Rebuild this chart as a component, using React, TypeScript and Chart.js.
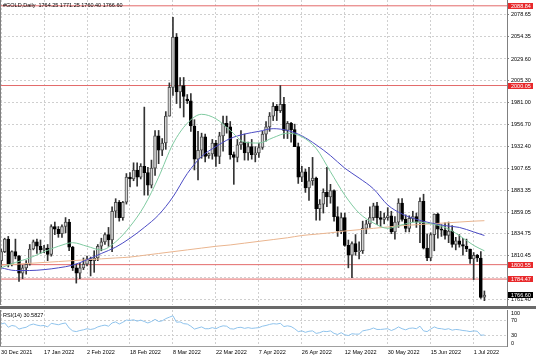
import React, { useEffect, useRef } from 'react';
import { Chart, registerables } from 'chart.js';
Chart.register(...registerables);

// ---------- data ----------
const TITLE = '#GOLD,Daily  1764.25 1771.25 1760.40 1766.60';
const RSI_TITLE = 'RSI(14) 30.5827';

const DATE_LABELS = ['30 Dec 2021', '17 Jan 2022', '2 Feb 2022', '18 Feb 2022', '8 Mar 2022', '22 Mar 2022', '7 Apr 2022', '26 Apr 2022', '12 May 2022', '30 May 2022', '15 Jun 2022', '1 Jul 2022'];
const DATE_INDEX = [0, 12, 24, 36, 48, 60, 72, 84, 96, 108, 120, 132];

const OPEN = [
  1805, 1815, 1829, 1801, 1815, 1810, 1791, 1797, 1801, 1818,
  1826, 1821, 1817, 1819, 1812, 1843, 1840, 1835, 1843, 1848,
  1820, 1797, 1791, 1797, 1801, 1807, 1805, 1808, 1821, 1826,
  1834, 1828, 1860, 1870, 1853, 1870, 1898, 1896, 1906, 1898,
  1910, 1903, 1889, 1908, 1944, 1928, 1936, 1966, 1998, 2054,
  1993, 2000, 1985, 1983, 1955, 1918, 1928, 1943, 1922, 1924,
  1936, 1921, 1944, 1958, 1954, 1923, 1920, 1934, 1937, 1925,
  1932, 1923, 1925, 1931, 1946, 1954, 1966, 1977, 1972, 1979,
  1950, 1958, 1951, 1932, 1898, 1904, 1886, 1894, 1897, 1863,
  1868, 1881, 1876, 1883, 1854, 1838, 1853, 1822, 1811, 1824,
  1815, 1816, 1841, 1846, 1853, 1866, 1853, 1851, 1853, 1855,
  1837, 1848, 1869, 1851, 1841, 1852, 1854, 1848, 1871, 1819,
  1808, 1834, 1857, 1840, 1839, 1833, 1838, 1823, 1827, 1823,
  1821, 1818, 1807, 1811, 1808, 1764.25,
];
const HIGH = [
  1818, 1830, 1832, 1816, 1829, 1811, 1800, 1805, 1823, 1828,
  1829, 1828, 1822, 1823, 1845, 1848, 1843, 1845, 1853, 1851,
  1821, 1801, 1802, 1808, 1810, 1809, 1816, 1823, 1830, 1836,
  1842, 1865, 1874, 1872, 1871, 1902, 1903, 1914, 1914, 1913,
  1976, 1909, 1917, 1950, 1950, 1941, 1971, 2003, 2076, 2058,
  2009, 2009, 1990, 1991, 1962, 1949, 1947, 1946, 1925, 1940,
  1939, 1948, 1966, 1966, 1960, 1926, 1940, 1950, 1946, 1937,
  1940, 1932, 1936, 1949, 1960, 1970, 1981, 1979, 2000, 1987,
  1960, 1959, 1957, 1936, 1910, 1907, 1909, 1920, 1898, 1873,
  1885, 1909, 1890, 1884, 1865, 1858, 1858, 1828, 1826, 1834,
  1826, 1849, 1850, 1865, 1869, 1870, 1860, 1858, 1864, 1860,
  1854, 1874, 1874, 1856, 1855, 1860, 1858, 1875, 1879, 1835,
  1836, 1857, 1858, 1845, 1847, 1848, 1844, 1831, 1834, 1830,
  1829, 1818, 1814, 1812, 1815, 1771.25,
];
const LOW = [
  1797, 1814, 1798, 1799, 1807, 1782, 1785, 1790, 1800, 1817,
  1813, 1813, 1814, 1805, 1810, 1834, 1831, 1831, 1836, 1816,
  1794, 1780, 1785, 1795, 1799, 1788, 1792, 1805, 1816, 1823,
  1821, 1815, 1853, 1849, 1850, 1868, 1887, 1894, 1888, 1896,
  1878, 1878, 1886, 1900, 1913, 1922, 1929, 1966, 1989, 1980,
  1975, 1965, 1980, 1949, 1906, 1895, 1919, 1915, 1919, 1918,
  1910, 1913, 1927, 1947, 1918, 1890, 1915, 1929, 1917, 1917,
  1918, 1915, 1920, 1929, 1938, 1949, 1961, 1961, 1970, 1941,
  1941, 1937, 1932, 1891, 1893, 1881, 1872, 1889, 1850, 1850,
  1858, 1865, 1869, 1849, 1832, 1835, 1821, 1797, 1786, 1811,
  1807, 1813, 1835, 1842, 1850, 1845, 1843, 1846, 1850, 1835,
  1829, 1842, 1849, 1837, 1837, 1848, 1842, 1825, 1818, 1805,
  1805, 1816, 1830, 1832, 1829, 1825, 1820, 1817, 1820, 1811,
  1815, 1802, 1784, 1804, 1763, 1760.40,
];
const CLOSE = [
  1815, 1829, 1801, 1815, 1810, 1791, 1797, 1801, 1818, 1826,
  1821, 1817, 1819, 1812, 1843, 1840, 1835, 1843, 1848, 1820,
  1797, 1791, 1797, 1801, 1807, 1805, 1808, 1821, 1826, 1834,
  1828, 1860, 1870, 1853, 1870, 1898, 1896, 1906, 1898, 1910,
  1903, 1889, 1908, 1944, 1928, 1936, 1966, 1998, 2054, 1993,
  2000, 1988, 1983, 1955, 1918, 1928, 1943, 1921, 1924, 1936,
  1921, 1944, 1958, 1954, 1923, 1920, 1934, 1937, 1925, 1932,
  1923, 1925, 1931, 1946, 1954, 1966, 1977, 1972, 1979, 1950,
  1958, 1951, 1932, 1898, 1904, 1886, 1894, 1897, 1863, 1868,
  1881, 1876, 1883, 1854, 1838, 1853, 1822, 1811, 1824, 1815,
  1816, 1841, 1846, 1853, 1866, 1853, 1851, 1853, 1855, 1837,
  1848, 1869, 1851, 1841, 1852, 1854, 1848, 1871, 1819, 1808,
  1834, 1857, 1840, 1839, 1833, 1838, 1823, 1827, 1823, 1821,
  1818, 1807, 1811, 1808, 1764, 1766.60,
];

const MA_INDEX = [0, 4, 8, 12, 16, 20, 24, 28, 32, 36, 40, 44, 48, 52, 56, 60, 64, 68, 72, 76, 80, 84, 88, 92, 96, 100, 104, 108, 112, 116, 120, 124, 128, 132, 135];
const MA_FAST = [1797, 1803, 1808, 1815, 1821, 1825, 1821, 1817, 1826, 1843, 1866, 1898, 1935, 1958, 1968, 1963, 1950, 1937, 1936, 1942, 1947, 1943, 1930, 1904, 1878, 1858, 1847, 1841, 1845, 1848, 1846, 1842, 1833, 1822, 1816];
const MA_MID = [1797, 1794, 1794, 1795, 1797, 1800, 1806, 1813, 1820, 1830, 1842, 1856, 1876, 1902, 1921, 1932, 1941, 1946, 1949, 1952, 1950, 1944, 1934, 1922, 1908, 1897, 1885, 1867, 1857, 1851, 1847, 1844, 1842, 1837, 1833];
const MA_SLOW = [1800, 1801, 1802, 1803, 1804, 1805, 1806, 1807, 1808, 1809, 1811, 1813, 1815, 1817, 1819, 1821, 1822.5, 1824.5, 1826.5, 1828.5, 1830.5, 1833, 1834.5, 1836, 1838, 1839.5, 1841, 1842.5, 1844, 1845, 1846, 1847, 1848, 1849, 1849.5];

const RSI = [
  61, 64, 52, 57, 55, 47, 50, 52, 58, 61,
  58, 56, 57, 53, 63, 61, 59, 62, 64, 50,
  42, 40, 43, 45, 48, 46, 48, 53, 56, 58,
  55, 64, 67, 61, 66, 72, 71, 73, 69, 72,
  68, 64, 68, 74, 68, 70, 76, 80, 84, 66,
  67, 62, 61, 55, 47, 50, 53, 48, 48, 51,
  48, 53, 56, 55, 48, 47, 51, 52, 49, 51,
  49, 50, 51, 55, 57, 60, 62, 61, 63, 54,
  56, 54, 48, 40, 42, 38, 41, 42, 35, 37,
  41, 40, 42, 35, 32, 37, 31, 29, 34, 33,
  33, 42, 44, 46, 50, 46, 46, 47, 48, 43,
  47, 53, 48, 45, 49, 50, 48, 55, 42, 40,
  47, 53, 49, 48, 46, 48, 44, 46, 45, 43,
  42, 40, 42, 41, 30, 30.58,
];

const PRICE_TICKS = [2078.65, 2054.35, 2029.60, 2005.30, 1981.00, 1956.70, 1932.40, 1907.65, 1883.35, 1859.05, 1834.75, 1810.45, 1786.15, 1761.40];
const HIDDEN_TICKS = [1786.15];
const LEVELS = [2088.84, 2000.05, 1800.55, 1784.47];
const LAST_PRICE = 1766.60;
const RSI_TICKS = [100, 70, 30, 0];
const RSI_LEVELS = [70, 30];

// ---------- layout / style ----------
const W = 536;
const MAIN_H = 309;
const RSI_H = 48;
const AXIS_W = 29;
const X_MIN = -0.31;
const X_MAX = 141.31;
const Y_MAX = 2095.3;
const Y_MIN = 1755.61;

const FONT_FAMILY = '"Liberation Sans", Arial, sans-serif';
const FONT_SIZE = 5.5;
const FONT = `${FONT_SIZE}px ${FONT_FAMILY}`;
const GRID = '#cfcfcf';
const AXIS = '#808080';
const LEVEL_COLOR = '#e36a6a';
const BOX_RED = '#e8292b';
const BULL_FILL = '#d2d2d2';
const BULL_EDGE = '#4a4a4a';
const BEAR_FILL = '#000000';
const WICK = '#333333';
const SEP = '#6a6a6a';

const mainDecor = {
  id: 'mainDecor',
  afterDraw(chart: any) {
    const { ctx, chartArea } = chart;
    const y = chart.scales.y;
    ctx.save();
    ctx.fillStyle = AXIS;
    ctx.fillRect(chartArea.left, chartArea.top, 1, chartArea.bottom - chartArea.top);
    ctx.fillStyle = SEP;
    ctx.fillRect(0, chartArea.bottom + 1, chart.width, 3);
    ctx.font = FONT;
    ctx.textBaseline = 'middle';
    ctx.textAlign = 'left';
    ctx.fillStyle = '#000';
    ctx.fillText(TITLE, chartArea.left + 3, chartArea.top + 5.3);
    const bx = chartArea.right + 1;
    const bw = 25;
    LEVELS.forEach((v) => {
      const py = y.getPixelForValue(v);
      ctx.fillStyle = BOX_RED;
      ctx.fillRect(bx, Math.round(py) - 3, bw, 6);
      ctx.fillStyle = '#fff';
      ctx.fillText(v.toFixed(2), bx + 3, Math.round(py));
    });
    const lp = y.getPixelForValue(LAST_PRICE);
    ctx.fillStyle = '#000';
    ctx.fillRect(bx, Math.round(lp) - 3, bw, 6);
    ctx.fillStyle = '#fff';
    ctx.fillText(LAST_PRICE.toFixed(2), bx + 3, Math.round(lp));
    ctx.restore();
  },
};

const rsiDecor = {
  id: 'rsiDecor',
  afterDraw(chart: any) {
    const { ctx, chartArea } = chart;
    const y = chart.scales.y;
    ctx.save();
    ctx.fillStyle = AXIS;
    ctx.fillRect(chartArea.left, chartArea.top, 1, chartArea.bottom - chartArea.top);
    ctx.font = FONT;
    ctx.textBaseline = 'middle';
    ctx.textAlign = 'left';
    ctx.fillStyle = '#000';
    ctx.fillText(RSI_TITLE, chartArea.left + 3, chartArea.top + 5);
    RSI_TICKS.forEach((v) => {
      const py = Math.min(Math.max(y.getPixelForValue(v), chartArea.top + 3), chartArea.bottom - 3);
      ctx.fillText(String(v), chartArea.right + 4, py);
    });
    ctx.restore();
  },
};

function xScale(showLabels: boolean, height: number) {
  return {
    type: 'linear',
    min: X_MIN,
    max: X_MAX,
    offset: false,
    afterBuildTicks: (s: any) => {
      s.ticks = DATE_INDEX.map((value) => ({ value }));
    },
    afterFit: (s: any) => {
      s.height = height;
      s.paddingLeft = 0;
      s.paddingRight = 0;
    },
    ticks: {
      display: showLabels,
      autoSkip: false,
      maxRotation: 0,
      minRotation: 0,
      align: 'start',
      padding: 3,
      color: '#000',
      font: { family: FONT_FAMILY, size: FONT_SIZE },
      callback: (v: number) => {
        const k = DATE_INDEX.indexOf(v);
        return k >= 0 ? DATE_LABELS[k] : '';
      },
    },
    grid: { color: GRID, drawTicks: false, offset: false },
    border: { display: false, dash: [2, 2] },
  };
}

export default function App() {
  const mainRef = useRef<HTMLCanvasElement>(null);
  const rsiRef = useRef<HTMLCanvasElement>(null);

  useEffect(() => {
    const prevMargin = document.body.style.margin;
    document.body.style.margin = '0';

    const bodyFill = OPEN.map((o, i) => (CLOSE[i] >= o ? BULL_FILL : BEAR_FILL));
    const bodyEdge = OPEN.map((o, i) => (CLOSE[i] >= o ? BULL_EDGE : BEAR_FILL));
    const toPts = (vals: number[]) => MA_INDEX.map((x, i) => ({ x, y: vals[i] }));

    const main = new Chart(mainRef.current as HTMLCanvasElement, {
      type: 'bar',
      data: {
        datasets: [
          ...LEVELS.map((v) => ({
            type: 'line',
            data: [{ x: X_MIN, y: v }, { x: X_MAX, y: v }],
            borderColor: LEVEL_COLOR,
            borderWidth: 1,
            pointRadius: 0,
            order: 10,
          })),
          {
            type: 'bar',
            data: OPEN.map((_, i) => ({ x: i, y: [LOW[i], HIGH[i]] })),
            backgroundColor: WICK,
            barThickness: 1,
            grouped: false,
            order: 6,
          },
          {
            type: 'bar',
            data: OPEN.map((o, i) => ({ x: i, y: [Math.min(o, CLOSE[i]), Math.max(o, CLOSE[i])] })),
            backgroundColor: bodyFill,
            borderColor: bodyEdge,
            borderWidth: 1,
            borderSkipped: false,
            barThickness: 3,
            minBarLength: 1,
            grouped: false,
            order: 5,
          },
          { type: 'line', data: toPts(MA_SLOW), borderColor: '#eab58f', borderWidth: 1, pointRadius: 0, cubicInterpolationMode: 'monotone', order: 3 },
          { type: 'line', data: toPts(MA_MID), borderColor: '#4b4bc4', borderWidth: 1, pointRadius: 0, cubicInterpolationMode: 'monotone', order: 2 },
          { type: 'line', data: toPts(MA_FAST), borderColor: '#7fcaa0', borderWidth: 1, pointRadius: 0, cubicInterpolationMode: 'monotone', order: 1 },
        ] as any,
      },
      options: {
        animation: false,
        responsive: false,
        devicePixelRatio: 1,
        events: [],
        layout: { padding: 0 },
        plugins: { legend: { display: false }, tooltip: { enabled: false }, title: { display: false } },
        scales: {
          x: xScale(false, MAIN_H - 305) as any,
          y: {
            type: 'linear',
            position: 'right',
            min: Y_MIN,
            max: Y_MAX,
            afterBuildTicks: (s: any) => {
              s.ticks = PRICE_TICKS.map((value) => ({ value }));
            },
            afterFit: (s: any) => {
              s.width = AXIS_W;
              s.paddingTop = 0;
              s.paddingBottom = 0;
            },
            ticks: {
              autoSkip: false,
              padding: 2,
              color: '#000',
              font: { family: FONT_FAMILY, size: FONT_SIZE },
              callback: (v: number) => (HIDDEN_TICKS.includes(v) ? '' : v.toFixed(2)),
            },
            grid: { color: GRID, drawTicks: true, tickLength: 2, tickColor: AXIS, tickBorderDash: [] },
            border: { display: true, color: AXIS, dash: [2, 2] },
          } as any,
        },
      },
      plugins: [mainDecor],
    });

    const rsi = new Chart(rsiRef.current as HTMLCanvasElement, {
      type: 'line',
      data: {
        datasets: [
          {
            data: RSI.map((v, i) => ({ x: i, y: v })),
            borderColor: '#8fc3ec',
            borderWidth: 1,
            pointRadius: 0,
          },
        ],
      },
      options: {
        animation: false,
        responsive: false,
        devicePixelRatio: 1,
        events: [],
        layout: { padding: { top: 1 } },
        plugins: { legend: { display: false }, tooltip: { enabled: false } },
        scales: {
          x: { ...(xScale(true, 11) as any), border: { display: true, color: '#a0a0a0', dash: [2, 2] } },
          y: {
            type: 'linear',
            position: 'right',
            min: 0,
            max: 100,
            afterBuildTicks: (s: any) => {
              s.ticks = RSI_LEVELS.map((value) => ({ value }));
            },
            afterFit: (s: any) => {
              s.width = AXIS_W;
              s.paddingTop = 0;
              s.paddingBottom = 0;
            },
            ticks: { display: false },
            grid: { color: GRID, drawTicks: false },
            border: { display: true, color: AXIS, dash: [2, 2] },
          } as any,
        },
      },
      plugins: [rsiDecor],
    });

    return () => {
      main.destroy();
      rsi.destroy();
      document.body.style.margin = prevMargin;
    };
  }, []);

  return (
    <div style={{ width: W, height: MAIN_H + RSI_H, background: '#fff' }}>
      <canvas ref={mainRef} width={W} height={MAIN_H} style={{ display: 'block', width: W, height: MAIN_H }} />
      <canvas ref={rsiRef} width={W} height={RSI_H} style={{ display: 'block', width: W, height: RSI_H }} />
    </div>
  );
}
